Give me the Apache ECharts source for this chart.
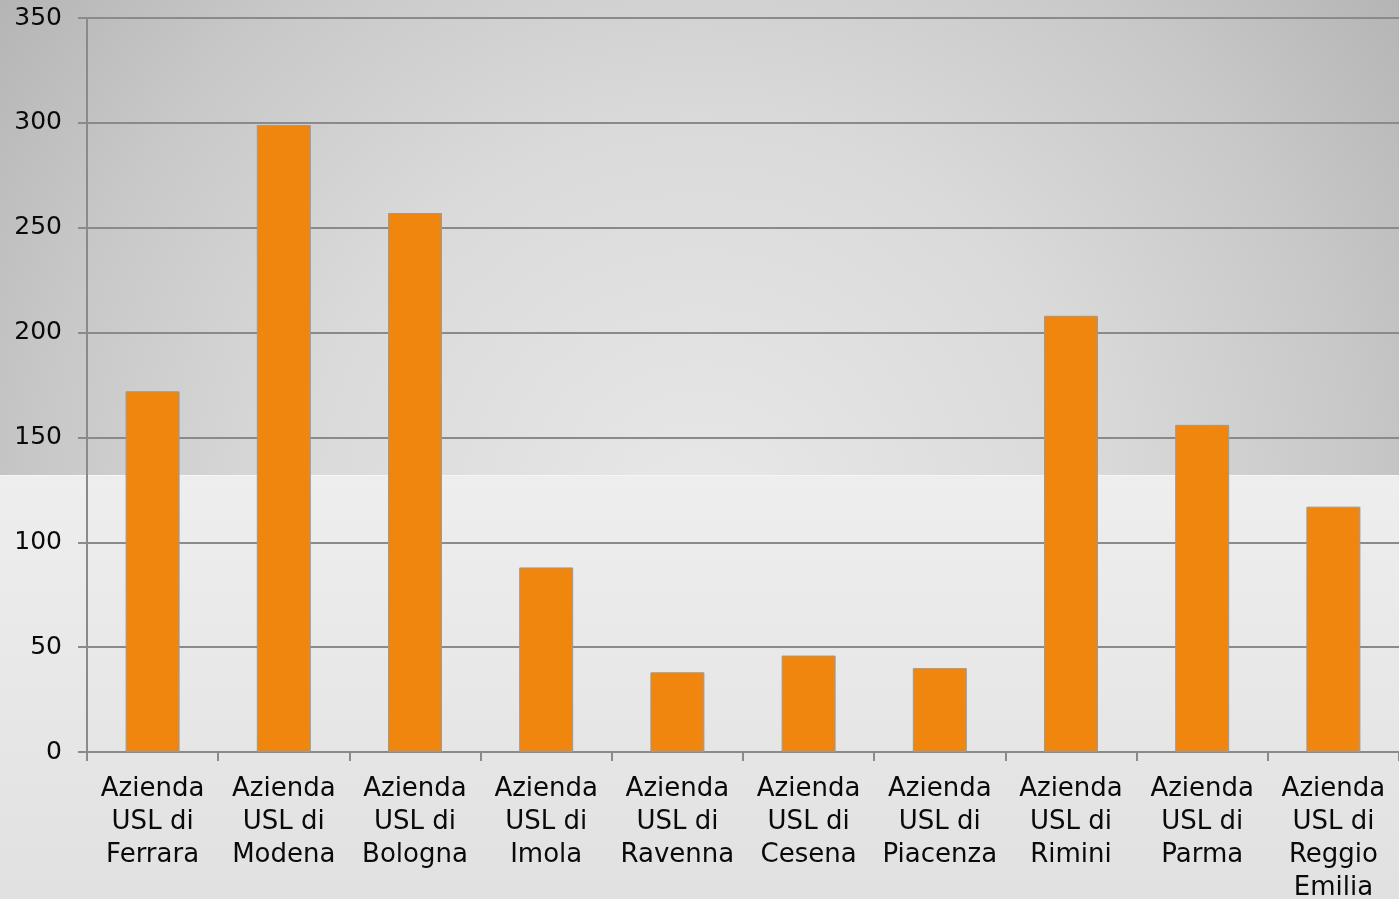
<!DOCTYPE html>
<html>
<head>
<meta charset="utf-8">
<script src="https://cdn.jsdelivr.net/npm/echarts@6/dist/echarts.min.js"></script>
<style>
  html, body { margin: 0; padding: 0; }
  #chart { width: 1399px; height: 899px; }
</style>
</head>
<body>
<div id="chart"></div>
<script>
const categories = [
  'Azienda USL di Ferrara', 'Azienda USL di Modena', 'Azienda USL di Bologna',
  'Azienda USL di Imola', 'Azienda USL di Ravenna', 'Azienda USL di Cesena',
  'Azienda USL di Piacenza', 'Azienda USL di Rimini', 'Azienda USL di Parma',
  'Azienda USL di Reggio Emilia'
]
const values = [172, 299, 257, 88, 38, 46, 40, 208, 156, 117]
const yTicks = [0, 50, 100, 150, 200, 250, 300, 350]

const chart = echarts.init(document.getElementById('chart'))
chart.setOption({
  backgroundColor: '#ececec',
  animation: false,
  textStyle: { fontFamily: 'DejaVu Sans' },
  graphic: [
    {
      type: 'rect', z: -10, silent: true,
      shape: { x: 0, y: 0, width: 1399, height: 475 },
      style: {
        // slide background: light in the middle, darker toward the corners
        fill: new echarts.graphic.RadialGradient(700, 520, 880, [
          { offset: 0, color: '#e8e8e8' },
          { offset: 0.45, color: '#dadada' },
          { offset: 0.75, color: '#c8c8c8' },
          { offset: 1, color: '#b4b4b4' }
        ], true)
      }
    },
    {
      type: 'rect', z: -10, silent: true,
      shape: { x: 0, y: 475, width: 1399, height: 424 },
      style: {
        fill: new echarts.graphic.LinearGradient(0, 0, 0, 1, [
          { offset: 0, color: '#eeeeee' },
          { offset: 1, color: '#e1e1e1' }
        ])
      }
    },
    {
      type: 'line', z: -9, silent: true,
      shape: { x1: 0, y1: 475.5, x2: 1399, y2: 475.5 },
      style: { stroke: '#f6f6f6', lineWidth: 1 }
    }
  ],
  grid: {
    left: 87,
    right: 0,
    top: 18,
    bottom: 147,
    outerBoundsMode: 'none'
  },
  xAxis: {
    type: 'category',
    data: categories,
    axisLine: { lineStyle: { color: '#8a8a8a', width: 2 } },
    axisTick: { show: true, length: 9, lineStyle: { color: '#8a8a8a', width: 2 } },
    axisLabel: {
      interval: 0,
      margin: 21,
      color: '#0a0a0a',
      fontSize: 26,
      lineHeight: 33,
      formatter: function (v) {
        return v.replace('Azienda USL di ', 'Azienda\nUSL di\n').replace('Reggio Emilia', 'Reggio\nEmilia')
      }
    }
  },
  yAxis: {
    type: 'value',
    min: yTicks[0],
    max: yTicks[yTicks.length - 1],
    interval: 50,
    axisLine: { show: true, lineStyle: { color: '#8a8a8a', width: 2 } },
    axisTick: { show: true, length: 9, lineStyle: { color: '#8a8a8a', width: 2 } },
    axisLabel: { margin: 25, color: '#0a0a0a', fontSize: 25 },
    splitLine: { lineStyle: { color: '#8a8a8a', width: 2 } }
  },
  series: [{
    type: 'bar',
    data: values,
    barWidth: 54,
    itemStyle: {
      color: '#f0860e',
      borderColor: '#9a9a9a',
      borderWidth: 1
    }
  }]
})
</script>
</body>
</html>
